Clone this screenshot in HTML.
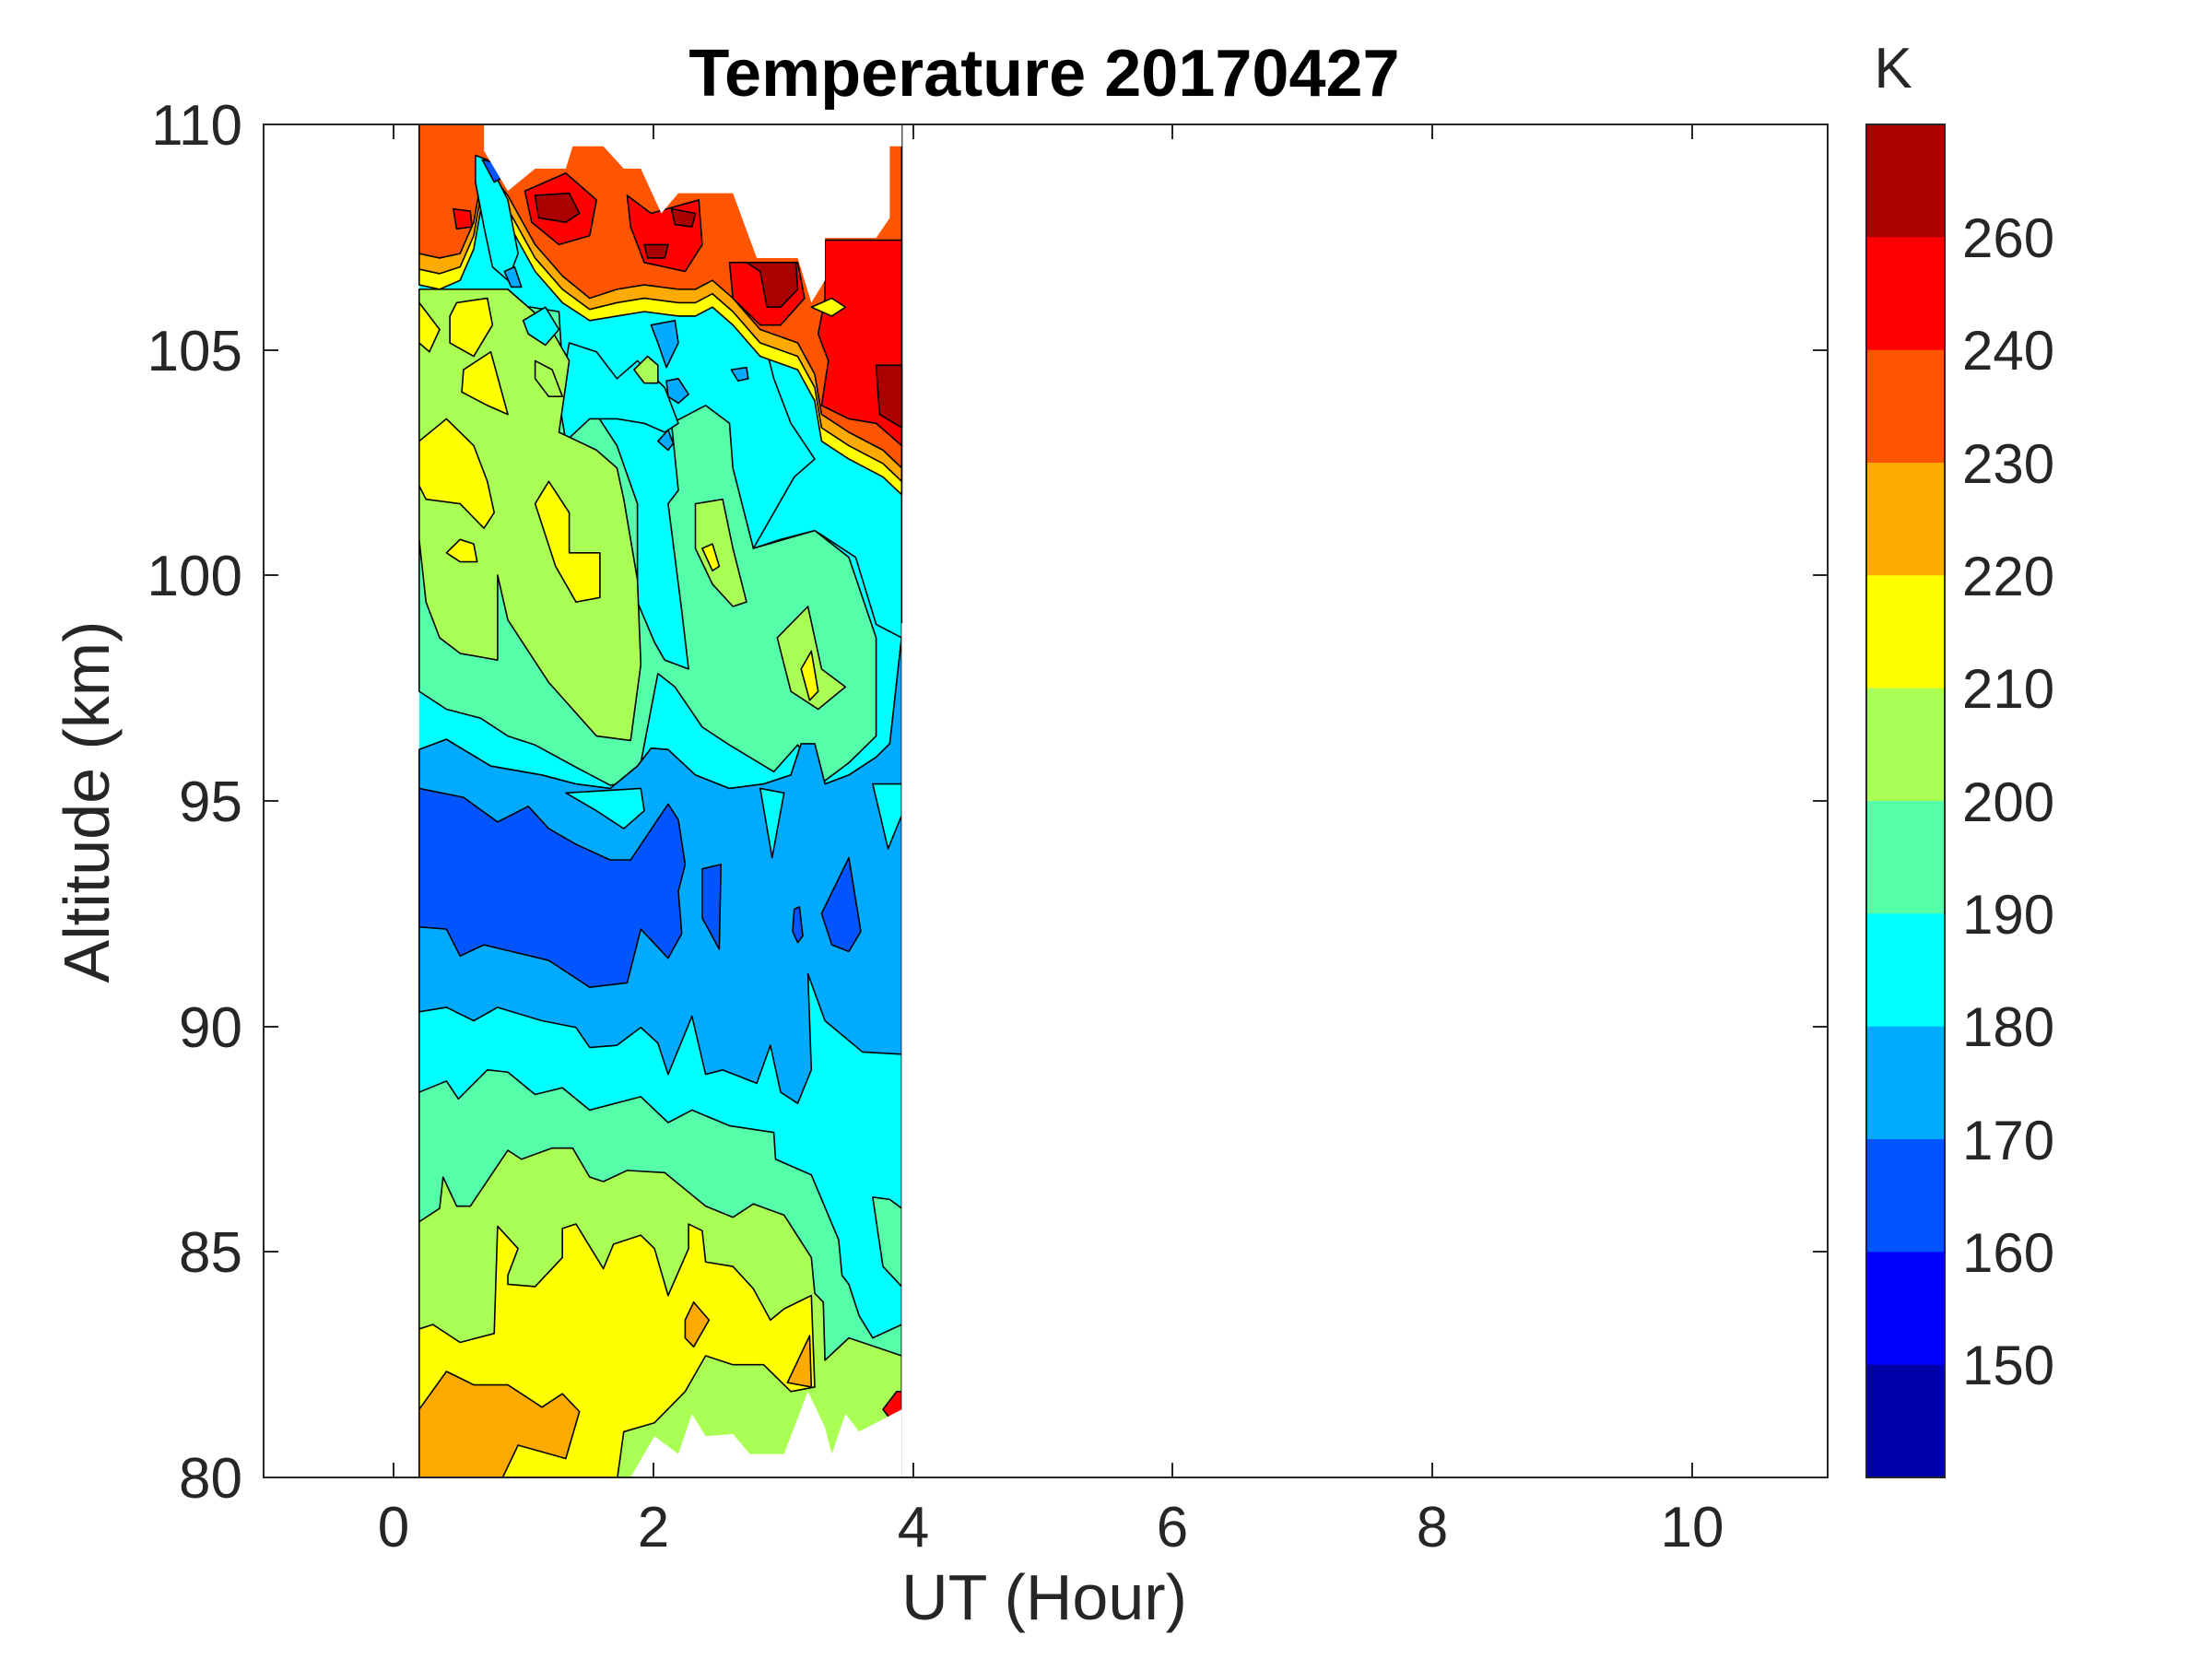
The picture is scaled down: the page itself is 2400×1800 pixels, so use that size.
<!DOCTYPE html>
<html><head><meta charset="utf-8"><style>
html,body{margin:0;padding:0;background:#fff;}
svg{display:block;}
text{font-family:"Liberation Sans",Arial,sans-serif;fill:#262626;}
</style></head><body>
<svg width="2400" height="1800" viewBox="0 0 2400 1800" xmlns="http://www.w3.org/2000/svg">
<defs>
<clipPath id="dc"><rect x="286" y="135" width="1697" height="1468"/></clipPath>
</defs>
<rect width="2400" height="1800" fill="#fff"/>
<g clip-path="url(#dc)" stroke="#000" stroke-width="1.6" stroke-linejoin="round">
<g transform="translate(440,120) scale(0.37,0.4847)">
<rect x="40" y="0" width="1415" height="1600" fill="#00FFFF" stroke="none"/>
<polygon vector-effect="non-scaling-stroke" fill="#55FFAA" points="40,400 450,450 470,700 560,680 620,750 680,880 680,1100 730,1190 760,1230 830,1250 810,1120 770,880 800,850 780,700 880,660 950,700 960,800 1020,980 1200,940 1300,1000 1380,1180 1380,1400 1300,1460 1230,1500 1150,1420 1080,1480 950,1420 870,1380 790,1290 740,1260 680,1500 600,1510 500,1470 380,1420 300,1400 220,1360 120,1340 40,1300"/>
<polygon vector-effect="non-scaling-stroke" fill="#00FFFF" points="480,520 560,540 620,600 680,560 760,620 800,700 760,720 700,700 620,690 540,690 470,740 450,650"/>
<polygon vector-effect="non-scaling-stroke" fill="#00FFFF" points="1060,540 1200,560 1220,700 1300,760 1455,800 1455,1180 1380,1150 1320,1000 1200,940 1100,960 1020,980 1080,900 1140,820 1200,780 1130,700 1080,600"/>
<polygon vector-effect="non-scaling-stroke" fill="#AAFF55" points="40,400 300,400 420,480 480,560 450,720 560,760 620,800 640,870 680,1050 690,1240 660,1410 560,1400 420,1280 300,1140 270,1040 270,1230 160,1215 100,1180 60,1100 40,960"/>
<polygon vector-effect="non-scaling-stroke" fill="#AAFF55" points="850,880 930,870 960,980 1000,1100 960,1110 900,1060 850,980"/>
<polygon vector-effect="non-scaling-stroke" fill="#AAFF55" points="1090,1180 1180,1110 1220,1250 1290,1290 1210,1340 1130,1300"/>
<polygon vector-effect="non-scaling-stroke" fill="#AAFF55" points="380,560 430,580 460,640 420,640 380,600"/>
<polygon vector-effect="non-scaling-stroke" fill="#AAFF55" points="670,580 710,550 740,570 740,610 700,610"/>
<polygon vector-effect="non-scaling-stroke" fill="#FFFF00" points="40,430 100,490 70,540 40,520"/>
<polygon vector-effect="non-scaling-stroke" fill="#FFFF00" points="150,430 240,420 255,480 200,550 130,520 130,460"/>
<polygon vector-effect="non-scaling-stroke" fill="#FFFF00" points="170,580 250,540 300,680 240,660 165,630"/>
<polygon vector-effect="non-scaling-stroke" fill="#FFFF00" points="40,740 120,690 200,750 240,830 260,900 230,935 160,880 60,870 40,840"/>
<polygon vector-effect="non-scaling-stroke" fill="#FFFF00" points="380,880 420,830 480,900 480,990 570,990 570,1090 500,1100 440,1020"/>
<polygon vector-effect="non-scaling-stroke" fill="#FFFF00" points="120,990 160,960 200,970 210,1010 160,1010"/>
<polygon vector-effect="non-scaling-stroke" fill="#FFFF00" points="870,980 900,970 920,1020 900,1030"/>
<polygon vector-effect="non-scaling-stroke" fill="#FFFF00" points="1160,1250 1190,1210 1210,1300 1185,1320"/>
<polygon vector-effect="non-scaling-stroke" fill="#00FFFF" points="345,470 410,440 450,490 410,525 360,500"/>
<polygon vector-effect="non-scaling-stroke" fill="#00AAFF" points="720,480 790,470 800,520 765,575 740,520"/>
<polygon vector-effect="non-scaling-stroke" fill="#00AAFF" points="765,605 800,600 830,635 800,655 770,640"/>
<polygon vector-effect="non-scaling-stroke" fill="#00AAFF" points="740,740 770,715 785,745 770,760"/>
<polygon vector-effect="non-scaling-stroke" fill="#00AAFF" points="955,580 1000,575 1005,600 975,605"/>
<polygon vector-effect="non-scaling-stroke" fill="#FFFF00" points="40,0 1455,0 1455,860 1400,820 1300,780 1220,740 1200,650 1150,580 1040,550 960,480 900,440 850,460 800,460 700,450 620,460 540,470 460,430 380,360 300,250 260,210 230,180 200,310 160,380 100,400 40,390"/>
<polygon vector-effect="non-scaling-stroke" fill="#FFAA00" points="40,0 1455,0 1455,830 1400,790 1300,750 1220,710 1200,620 1150,550 1040,520 960,450 900,410 850,430 800,430 700,420 620,430 540,445 460,400 380,330 300,220 260,180 230,150 200,280 160,350 100,365 40,355"/>
<polygon vector-effect="non-scaling-stroke" fill="#FF5500" points="40,0 1455,0 1455,800 1400,760 1300,720 1220,680 1200,590 1150,520 1040,490 960,420 900,380 850,400 800,400 700,390 620,400 540,420 460,370 380,300 300,190 260,150 230,120 200,250 160,320 100,330 40,320"/>
<polygon vector-effect="non-scaling-stroke" fill="#00FFFF" points="205,100 240,110 300,200 330,320 300,380 255,350 230,260 205,160"/>
<polygon vector-effect="non-scaling-stroke" fill="#0055FF" points="225,110 255,115 285,150 260,160"/>
<polygon vector-effect="non-scaling-stroke" fill="#00AAFF" points="290,360 320,350 340,395 310,395"/>
<polygon vector-effect="non-scaling-stroke" fill="#FF0000" points="350,180 470,140 560,200 540,280 450,300 370,250"/>
<polygon vector-effect="non-scaling-stroke" fill="#AA0000" points="380,190 480,185 510,230 470,250 390,240"/>
<polygon vector-effect="non-scaling-stroke" fill="#FF0000" points="650,190 720,230 860,200 870,300 820,360 700,340 660,260"/>
<polygon vector-effect="non-scaling-stroke" fill="#AA0000" points="700,300 770,300 760,330 710,330"/>
<polygon vector-effect="non-scaling-stroke" fill="#AA0000" points="780,220 850,230 840,260 790,255"/>
<polygon vector-effect="non-scaling-stroke" fill="#FF0000" points="950,340 1150,340 1170,420 1100,480 1040,480 960,420"/>
<polygon vector-effect="non-scaling-stroke" fill="#AA0000" points="1000,340 1145,340 1150,400 1100,440 1060,440 1040,360"/>
<polygon vector-effect="non-scaling-stroke" fill="#FF0000" points="1230,290 1455,290 1455,750 1380,700 1300,690 1220,660 1240,560 1210,500 1230,420"/>
<polygon vector-effect="non-scaling-stroke" fill="#AA0000" points="1380,570 1455,570 1455,710 1390,680"/>
<polygon vector-effect="non-scaling-stroke" fill="#FF0000" points="140,220 190,225 195,260 150,265"/>
<polygon vector-effect="non-scaling-stroke" fill="#FFFF00" points="1190,440 1250,420 1290,440 1250,460"/>
<polygon fill="#fff" stroke="none" points="40,-10 40,30 230,30 230,90 300,180 380,130 470,130 490,80 580,80 640,130 690,130 750,230 800,185 960,185 1030,330 1150,330 1190,430 1230,380 1230,285 1380,285 1420,240 1420,80 1455,80 1455,-10"/>
</g>
<g transform="translate(440,870) scale(0.37,0.4847)">
<polygon vector-effect="non-scaling-stroke" fill="#00FFFF" points="40,-117 120,-140 250,-80 400,-60 500,-40 600,-30 680,-80 720,-120 770,-117 850,-60 950,-30 1050,-40 1130,-60 1160,-130 1200,-130 1230,-40 1300,-60 1380,-100 1420,-130 1455,-370 1455,1600 40,1600"/>
<polygon vector-effect="non-scaling-stroke" fill="#00AAFF" points="40,-117 120,-140 250,-80 400,-60 500,-40 600,-30 680,-80 720,-120 770,-117 850,-60 950,-30 1050,-40 1130,-60 1160,-130 1200,-130 1230,-40 1300,-60 1380,-100 1420,-130 1455,-370 1455,565 1340,560 1230,490 1180,385 1190,600 1150,675 1100,650 1070,545 1030,630 930,600 880,610 840,480 770,610 740,540 690,505 620,545 540,550 500,505 400,490 270,460 200,490 120,460 40,470"/>
<polygon vector-effect="non-scaling-stroke" fill="#00FFFF" points="470,-20 560,20 640,60 700,20 690,-30"/>
<polygon vector-effect="non-scaling-stroke" fill="#00FFFF" points="1040,-30 1075,125 1110,-20"/>
<polygon vector-effect="non-scaling-stroke" fill="#00FFFF" points="1370,-40 1415,105 1455,30 1455,-40"/>
<polygon vector-effect="non-scaling-stroke" fill="#0055FF" points="40,-30 170,-10 270,45 360,10 420,60 500,95 600,130 660,130 770,5 800,40 820,140 800,200 810,295 770,350 690,285 650,405 540,415 420,355 230,320 160,345 120,285 40,280"/>
<polygon vector-effect="non-scaling-stroke" fill="#0055FF" points="870,150 925,140 920,330 870,260"/>
<polygon vector-effect="non-scaling-stroke" fill="#0055FF" points="1140,240 1155,235 1165,300 1150,315 1135,290"/>
<polygon vector-effect="non-scaling-stroke" fill="#0055FF" points="1220,250 1300,125 1335,290 1300,335 1250,320"/>
<polygon vector-effect="non-scaling-stroke" fill="#55FFAA" points="40,650 120,625 155,665 240,600 300,605 380,655 460,640 540,690 690,660 770,718 840,690 950,725 1080,740 1085,800 1190,835 1270,980 1280,1060 1300,1080 1330,1150 1370,1200 1455,1170 1455,1600 40,1600"/>
<polygon vector-effect="non-scaling-stroke" fill="#55FFAA" points="1370,885 1420,890 1455,910 1455,1085 1400,1040"/>
<polygon vector-effect="non-scaling-stroke" fill="#AAFF55" points="40,940 100,910 110,840 150,905 190,905 300,780 340,800 430,775 490,775 540,840 580,850 650,825 760,830 880,905 960,930 1020,900 1110,925 1190,1020 1200,1100 1225,1120 1230,1250 1300,1200 1455,1240 1455,1600 40,1600"/>
<polygon vector-effect="non-scaling-stroke" fill="#FFFF00" points="40,1180 80,1170 160,1210 260,1190 270,950 330,1000 300,1060 300,1080 380,1085 460,1020 460,955 500,945 580,1045 610,990 690,970 730,1000 770,1105 830,1000 830,945 870,960 880,1030 960,1040 1020,1090 1070,1160 1110,1135 1190,1105 1200,1310 1130,1320 1050,1260 960,1260 880,1240 820,1320 730,1390 640,1410 620,1520 40,1520"/>
<polygon vector-effect="non-scaling-stroke" fill="#FFAA00" points="40,1360 120,1275 200,1305 300,1305 400,1355 460,1325 510,1365 470,1470 330,1440 280,1520 40,1520"/>
<polygon vector-effect="non-scaling-stroke" fill="#FFAA00" points="820,1160 845,1120 890,1160 845,1220 820,1200"/>
<polygon vector-effect="non-scaling-stroke" fill="#FFAA00" points="1120,1300 1185,1195 1190,1310"/>
<polygon vector-effect="non-scaling-stroke" fill="#FF0000" points="1400,1360 1440,1320 1455,1320 1455,1380 1430,1390"/>
<polygon fill="#fff" stroke="none" points="650,1525 730,1420 800,1460 840,1370 880,1420 960,1415 1010,1460 1110,1460 1180,1320 1230,1400 1250,1460 1290,1370 1330,1410 1455,1360 1455,1525"/>
<rect x="1455" y="-400" width="100" height="2000" fill="#fff" stroke="none"/>
</g>
</g>
<rect x="286" y="135" width="1697" height="1468" fill="none" stroke="#262626" stroke-width="2"/>
<g stroke="#262626" stroke-width="2">
<line x1="427" y1="1603" x2="427" y2="1587"/><line x1="709" y1="1603" x2="709" y2="1587"/><line x1="991" y1="1603" x2="991" y2="1587"/><line x1="1272" y1="1603" x2="1272" y2="1587"/><line x1="1554" y1="1603" x2="1554" y2="1587"/><line x1="1836" y1="1603" x2="1836" y2="1587"/>
<line x1="427" y1="135" x2="427" y2="151"/><line x1="709" y1="135" x2="709" y2="151"/><line x1="991" y1="135" x2="991" y2="151"/><line x1="1272" y1="135" x2="1272" y2="151"/><line x1="1554" y1="135" x2="1554" y2="151"/><line x1="1836" y1="135" x2="1836" y2="151"/>
<line x1="286" y1="380" x2="302" y2="380"/><line x1="286" y1="624" x2="302" y2="624"/><line x1="286" y1="869" x2="302" y2="869"/><line x1="286" y1="1114" x2="302" y2="1114"/><line x1="286" y1="1358" x2="302" y2="1358"/>
<line x1="1983" y1="380" x2="1967" y2="380"/><line x1="1983" y1="624" x2="1967" y2="624"/><line x1="1983" y1="869" x2="1967" y2="869"/><line x1="1983" y1="1114" x2="1967" y2="1114"/><line x1="1983" y1="1358" x2="1967" y2="1358"/>
</g>
<g font-size="62" text-anchor="end">
<text x="263" y="157">110</text><text x="263" y="402">105</text><text x="263" y="646">100</text><text x="263" y="891">95</text><text x="263" y="1136">90</text><text x="263" y="1380">85</text><text x="263" y="1625">80</text>
</g>
<g font-size="62" text-anchor="middle">
<text x="427" y="1678">0</text><text x="709" y="1678">2</text><text x="991" y="1678">4</text><text x="1272" y="1678">6</text><text x="1554" y="1678">8</text><text x="1836" y="1678">10</text>
</g>
<text x="1133" y="1757" font-size="70" text-anchor="middle">UT (Hour)</text>
<text transform="translate(118,870) rotate(-90)" font-size="70" text-anchor="middle">Altitude (km)</text>
<text x="1133" y="104" font-size="72" font-weight="bold" text-anchor="middle" style="fill:#000">Temperature 20170427</text>
<g>
<rect x="2025" y="135" width="85" height="123" fill="#AA0000"/>
<rect x="2025" y="257.3" width="85" height="123" fill="#FF0000"/>
<rect x="2025" y="379.7" width="85" height="123" fill="#FF5500"/>
<rect x="2025" y="502" width="85" height="123" fill="#FFAA00"/>
<rect x="2025" y="624.3" width="85" height="123" fill="#FFFF00"/>
<rect x="2025" y="746.7" width="85" height="123" fill="#AAFF55"/>
<rect x="2025" y="869" width="85" height="123" fill="#55FFAA"/>
<rect x="2025" y="991.3" width="85" height="123" fill="#00FFFF"/>
<rect x="2025" y="1113.7" width="85" height="123" fill="#00AAFF"/>
<rect x="2025" y="1236" width="85" height="123" fill="#0055FF"/>
<rect x="2025" y="1358.3" width="85" height="123" fill="#0000FF"/>
<rect x="2025" y="1480.7" width="85" height="122.3" fill="#0000AA"/>
<rect x="2025" y="135" width="85" height="1468" fill="none" stroke="#262626" stroke-width="2"/>
</g>
<g font-size="60">
<text x="2129" y="279">260</text><text x="2129" y="401">240</text><text x="2129" y="524">230</text><text x="2129" y="646">220</text><text x="2129" y="768">210</text><text x="2129" y="891">200</text><text x="2129" y="1013">190</text><text x="2129" y="1135">180</text><text x="2129" y="1258">170</text><text x="2129" y="1380">160</text><text x="2129" y="1502">150</text>
</g>
<text x="2054" y="95" font-size="62" text-anchor="middle">K</text>
</svg>
</body></html>
